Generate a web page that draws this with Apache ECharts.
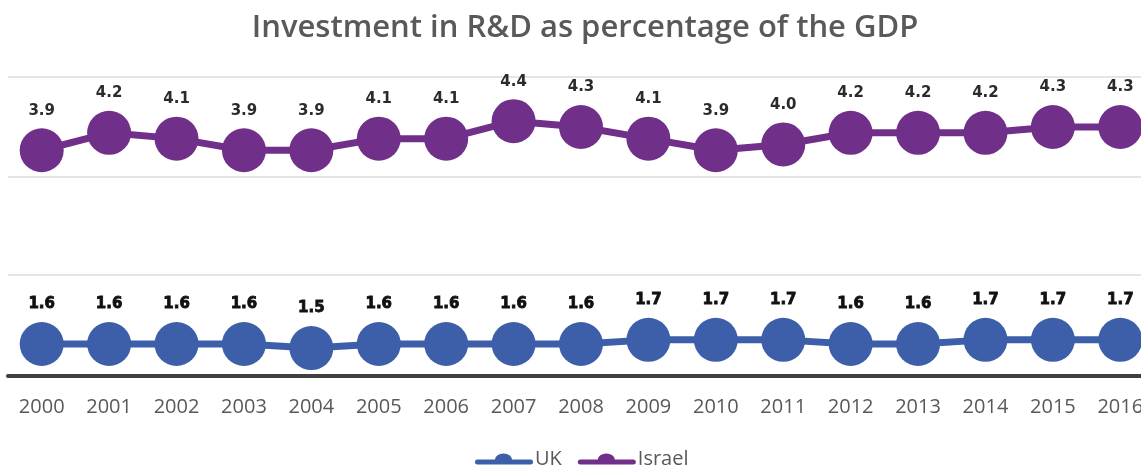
<!DOCTYPE html>
<html>
<head>
<meta charset="utf-8">
<title>Investment in R&amp;D as percentage of the GDP</title>
<script src="https://cdn.jsdelivr.net/npm/echarts@6/dist/echarts.min.js"></script>
<style>
  html, body { margin: 0; padding: 0; background: #ffffff; }
  #chart { width: 1141px; height: 467px; }
</style>
</head>
<body>
<div id="chart"></div>
<script>
// Years on the horizontal axis
const years = ['2000', '2001', '2002', '2003', '2004', '2005', '2006', '2007', '2008',
  '2009', '2010', '2011', '2012', '2013', '2014', '2015', '2016'];

// R&D spending, % of GDP
const ukValues = [1.6, 1.6, 1.6, 1.6, 1.5, 1.6, 1.6, 1.6, 1.6, 1.7, 1.7, 1.7, 1.6, 1.6, 1.7, 1.7, 1.7];
const israelValues = [3.9, 4.2, 4.1, 3.9, 3.9, 4.1, 4.1, 4.4, 4.3, 4.1, 3.9, 4.0, 4.2, 4.2, 4.2, 4.3, 4.3];

const seriesNames = ['UK', 'Israel'];
const titleText = 'Investment in R&D as percentage of the GDP';

const UK_COLOR = '#3d5fa9';
const ISRAEL_COLOR = '#70308a';
const TEXT_GRAY = '#595959';

// Legend icon: a thick rounded line with a low dome in the middle
const legendIcon = 'path://M2.5,6L20,6A8.5,6 0 0 1 37,6L55.5,6A2.5,2.5 0 0 1 55.5,11L2.5,11A2.5,2.5 0 0 1 2.5,6Z';

const chart = echarts.init(document.getElementById('chart'), null, { renderer: 'canvas' });

function lineSeries(name, values, color, axisIndex, labelColor, labelBorder) {
  return {
    name: name,
    type: 'line',
    xAxisIndex: axisIndex,
    yAxisIndex: axisIndex,
    data: values,
    symbol: 'circle',
    symbolSize: 44,
    lineStyle: { color: color, width: 7 },
    itemStyle: { color: color },
    label: {
      show: true,
      position: 'top',
      distance: 10,
      color: labelColor,
      fontFamily: 'DejaVu Sans',
      fontWeight: 'bold',
      fontSize: 15,
      textBorderColor: labelBorder ? labelColor : 'transparent',
      textBorderWidth: labelBorder ? 0.8 : 0,
      formatter: p => p.value.toFixed(1)
    },
    emphasis: { disabled: true },
    z: 3
  };
}

// The plot runs slightly past the right edge of the canvas, so the last
// year label is clipped there.
const gridCommon = { left: 8, width: 1146, outerBoundsMode: 'none', containLabel: false };

chart.setOption({
  animation: false,
  backgroundColor: '#ffffff',
  title: {
    text: titleText,
    left: 580,
    textAlign: 'center',
    top: 8,
    textStyle: {
      fontFamily: 'Open Sans',
      fontWeight: 600,
      fontSize: 31,
      color: TEXT_GRAY
    }
  },
  legend: {
    data: seriesNames.map(n => ({ name: n, icon: legendIcon })),
    left: 475,
    top: 449,
    padding: 0,
    itemWidth: 58,
    itemHeight: 11,
    itemGap: 16,
    textStyle: {
      fontFamily: 'Open Sans',
      fontSize: 20,
      color: TEXT_GRAY,
      padding: [0, 0, 0, -3]
    },
    selectedMode: false
  },
  grid: [
    // Israel band
    Object.assign({ top: 77, height: 100 }, gridCommon),
    // UK band, sitting on the category axis
    Object.assign({ top: 275, height: 101 }, gridCommon)
  ],
  xAxis: [
    {
      gridIndex: 0,
      type: 'category',
      data: years,
      show: false
    },
    {
      gridIndex: 1,
      type: 'category',
      data: years,
      axisLine: { show: true, lineStyle: { color: '#404040', width: 4 } },
      axisTick: { show: false },
      axisLabel: {
        color: TEXT_GRAY,
        fontFamily: 'Open Sans',
        fontSize: 20,
        margin: 21,
        interval: 0,
        hideOverlap: false
      }
    }
  ],
  yAxis: [
    {
      gridIndex: 0,
      type: 'value',
      min: 3.44,
      max: 5.16,
      interval: 1.72,
      axisLabel: { show: false },
      axisLine: { show: false },
      axisTick: { show: false },
      splitLine: { show: true, lineStyle: { color: '#dcdcdc', width: 1.5 } }
    },
    {
      gridIndex: 1,
      type: 'value',
      min: 0.82,
      max: 3.28,
      interval: 0.82,
      axisLabel: { show: false },
      axisLine: { show: false },
      axisTick: { show: false },
      // only the outer lines of this band are visible
      splitLine: {
        show: true,
        lineStyle: { color: ['#dcdcdc', 'rgba(0,0,0,0)', 'rgba(0,0,0,0)'], width: 1.5 }
      }
    }
  ],
  series: [
    lineSeries(seriesNames[0], ukValues, UK_COLOR, 1, '#111111', true),
    lineSeries(seriesNames[1], israelValues, ISRAEL_COLOR, 0, '#2b2b2b', false)
  ]
});
</script>
</body>
</html>
